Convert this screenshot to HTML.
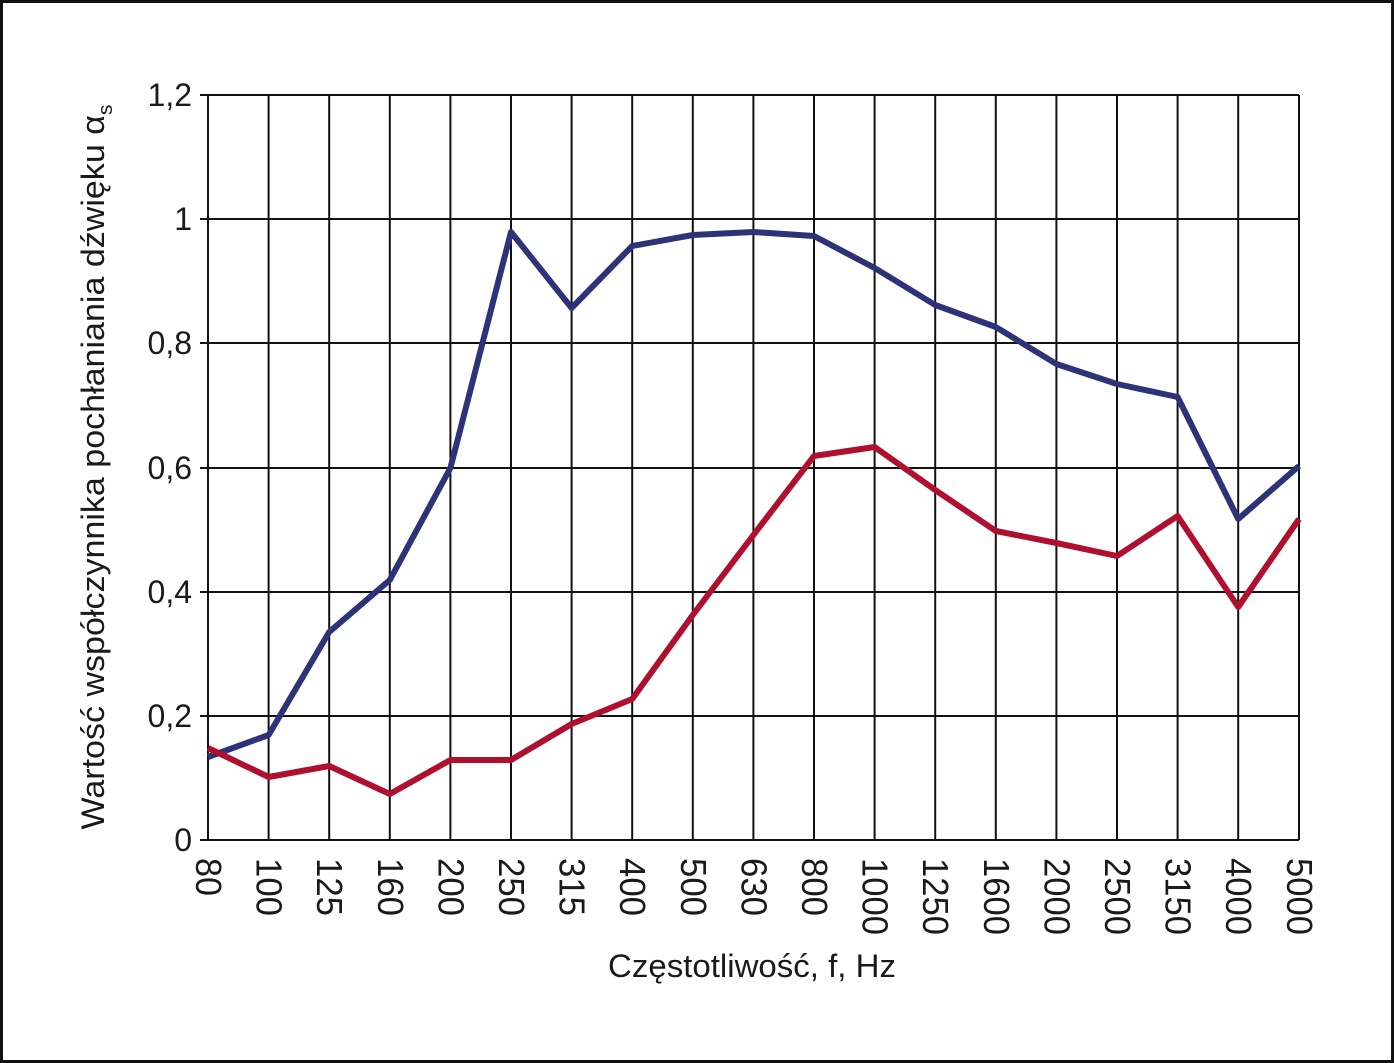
<!DOCTYPE html>
<html><head><meta charset="utf-8"><style>
html,body{margin:0;padding:0;background:#fff}
svg{display:block}
text{font-family:"Liberation Sans",sans-serif;fill:#1a1a1a}
</style></head><body>
<svg width="1394" height="1063" viewBox="0 0 1394 1063" xmlns="http://www.w3.org/2000/svg">
<rect x="1.5" y="1.5" width="1391" height="1060" fill="#fff" stroke="#111" stroke-width="3"/>
<g stroke="#111" stroke-width="2" fill="none">
<path d="M208 95V840M268.6 95V840M329.2 95V840M389.8 95V840M450.4 95V840M511 95V840M571.6 95V840M632.2 95V840M692.8 95V840M753.4 95V840M814 95V840M874.6 95V840M935.2 95V840M995.8 95V840M1056.4 95V840M1117 95V840M1177.6 95V840M1238.2 95V840M1299 95V840"/>
<path d="M200 95H1299M200 219H1299M200 343H1299M200 468H1299M200 592H1299M200 716H1299M200 840H1299"/>
</g>
<polyline fill="none" stroke="#2e3277" stroke-width="6" stroke-linejoin="round" points="208,757 268.6,735 329.2,632 389.8,580 450.4,468 511,232 571.6,308 632.2,246 692.8,235 753.4,232 814,236 874.6,268 935.2,305 995.8,327 1056.4,364 1117,384 1177.6,397 1238.2,519 1299,466"/>
<polyline fill="none" stroke="#b0102f" stroke-width="6" stroke-linejoin="round" points="208,748 268.6,777 329.2,766 389.8,794 450.4,760 511,760 571.6,724 632.2,699 692.8,615 753.4,535 814,456 874.6,447 935.2,490 995.8,531 1056.4,543 1117,556 1177.6,516 1238.2,607 1299,519"/>
<g font-size="32" text-anchor="end">
<text x="192" y="106">1,2</text><text x="192" y="230">1</text><text x="192" y="354">0,8</text><text x="192" y="479">0,6</text><text x="192" y="603">0,4</text><text x="192" y="727">0,2</text><text x="192" y="851">0</text>
</g>
<g font-size="36" lengthAdjust="spacingAndGlyphs">
<text transform="translate(196,858) rotate(90)" textLength="38" lengthAdjust="spacingAndGlyphs">80</text>
<text transform="translate(256.6,858) rotate(90)" textLength="58" lengthAdjust="spacingAndGlyphs">100</text>
<text transform="translate(317.2,858) rotate(90)" textLength="58" lengthAdjust="spacingAndGlyphs">125</text>
<text transform="translate(377.8,858) rotate(90)" textLength="58" lengthAdjust="spacingAndGlyphs">160</text>
<text transform="translate(438.4,858) rotate(90)" textLength="58" lengthAdjust="spacingAndGlyphs">200</text>
<text transform="translate(499,858) rotate(90)" textLength="58" lengthAdjust="spacingAndGlyphs">250</text>
<text transform="translate(559.6,858) rotate(90)" textLength="58" lengthAdjust="spacingAndGlyphs">315</text>
<text transform="translate(620.2,858) rotate(90)" textLength="58" lengthAdjust="spacingAndGlyphs">400</text>
<text transform="translate(680.8,858) rotate(90)" textLength="58" lengthAdjust="spacingAndGlyphs">500</text>
<text transform="translate(741.4,858) rotate(90)" textLength="58" lengthAdjust="spacingAndGlyphs">630</text>
<text transform="translate(802,858) rotate(90)" textLength="58" lengthAdjust="spacingAndGlyphs">800</text>
<text transform="translate(862.6,858) rotate(90)" textLength="77" lengthAdjust="spacingAndGlyphs">1000</text>
<text transform="translate(923.2,858) rotate(90)" textLength="77" lengthAdjust="spacingAndGlyphs">1250</text>
<text transform="translate(983.8,858) rotate(90)" textLength="77" lengthAdjust="spacingAndGlyphs">1600</text>
<text transform="translate(1044.4,858) rotate(90)" textLength="77" lengthAdjust="spacingAndGlyphs">2000</text>
<text transform="translate(1105,858) rotate(90)" textLength="77" lengthAdjust="spacingAndGlyphs">2500</text>
<text transform="translate(1165.6,858) rotate(90)" textLength="77" lengthAdjust="spacingAndGlyphs">3150</text>
<text transform="translate(1226.2,858) rotate(90)" textLength="77" lengthAdjust="spacingAndGlyphs">4000</text>
<text transform="translate(1287,858) rotate(90)" textLength="77" lengthAdjust="spacingAndGlyphs">5000</text>
</g>
<text x="752" y="977" font-size="32" text-anchor="middle" textLength="288" lengthAdjust="spacingAndGlyphs">Częstotliwość, f, Hz</text>
<text transform="translate(104,467) rotate(-90)" font-size="32" text-anchor="middle" textLength="725" lengthAdjust="spacingAndGlyphs">Wartość współczynnika pochłaniania dźwięku α<tspan font-size="20" dy="8">s</tspan></text>
</svg>
</body></html>
